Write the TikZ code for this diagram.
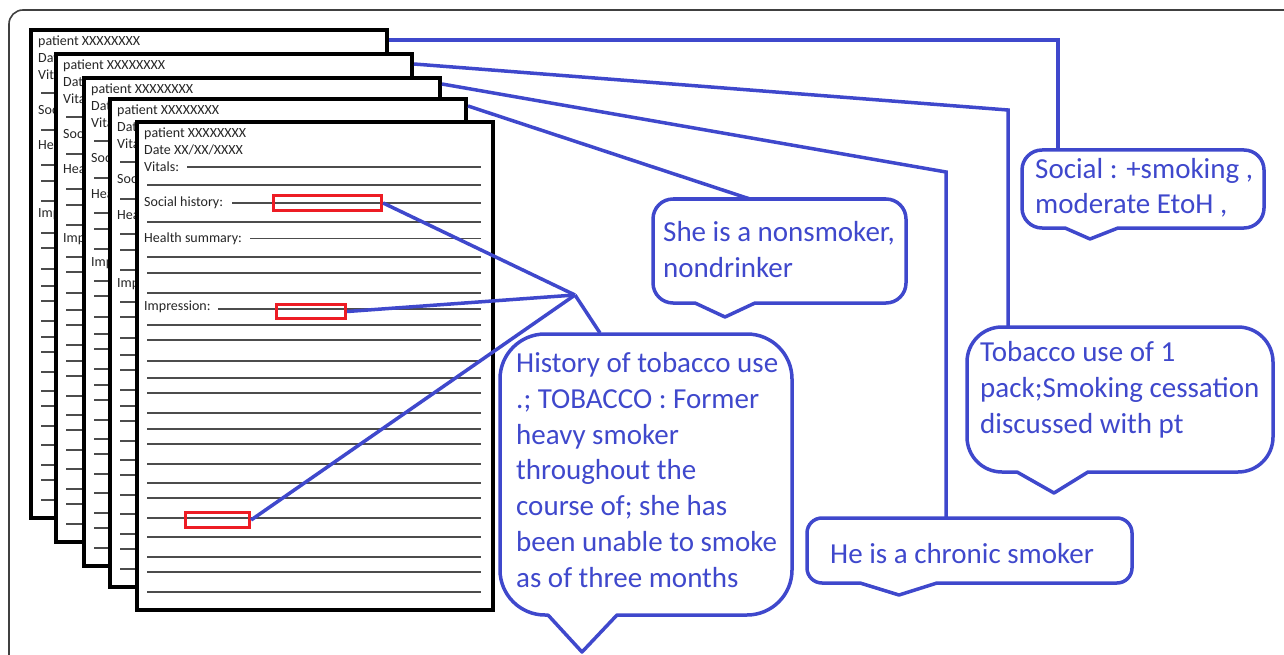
\documentclass[tikz,border=0pt]{standalone}
\usepackage{fontspec}
\setmainfont{Carlito}
\usetikzlibrary{positioning}
\definecolor{paintblue}{RGB}{63,72,204}
\definecolor{paintred}{RGB}{237,28,36}

\tikzset{
  frame/.style={draw=black!75, line width=1.6pt},
  page/.style={draw=black, line width=4pt, fill=white, minimum width=356pt, minimum height=488pt, anchor=north west, inner sep=0pt},
  pagetxt/.style={anchor=base west, inner sep=0pt, text=black!85, font=\fontsize{14pt}{16pt}\selectfont},
  ruled/.style={draw=black!70, line width=1.2pt},
  redbox/.style={draw=paintred, line width=3.2pt, inner sep=0pt},
  link/.style={draw=paintblue, line width=3.5pt},
  bubble/.style={draw=paintblue, line width=3.5pt, line join=round, line cap=round},
  bubbletxt/.style={anchor=base west, inner sep=0pt, align=left, text=paintblue, font=\fontsize{29pt}{35.7pt}\selectfont},
}

% one clinical note sheet, #1 = name, #2 = top left corner
\newcommand{\notepage}[2]{%
  \node[page] (#1) at (#2) {};
  \begin{scope}[shift={(#1.north west)}]
    \node[pagetxt] (#1-id) at (9,17.5) {patient XXXXXXXX};
    \node[pagetxt] (#1-date) at (9,35) {Date XX/XX/XXXX};
    \node[pagetxt] (#1-vit) at (9,52) {Vitals:};
    \node[pagetxt] (#1-soc) at (9,87) {Social history:};
    \node[pagetxt] (#1-hlth) at (9,122) {Health summary:};
    \node[pagetxt] (#1-imp) at (9,190) {Impression:};
    \foreach \y/\x in {47/52, 65/12, 83/97, 102/12, 118.5/115, 137/12, 153/12, 173/12,
      189/83, 205/12, 220/12, 241/12, 258/12, 273/12, 293/12, 309/12, 324/12, 344/12,
      363/12, 378/12, 398/12, 417/12, 437/12, 452/12, 472/12}
      \draw[ruled] (\x,\y) -- (346,\y);
  \end{scope}}

\begin{document}
\begin{tikzpicture}[x=1pt, y=-1pt]
  \useasboundingbox (0,0) rectangle (1284,655);
  \draw[frame, rounded corners=14pt] (9,660) -- (9,10) -- (1290,10);

  % stack of notes
  \notepage{p1}{29,28}
  \notepage{p2}{54,52}
  \notepage{p3}{82,76}
  \notepage{p4}{108,97}
  \notepage{p5}{135,120}

  % highlighted mentions
  \node[redbox, minimum width=108pt, minimum height=15pt] (rb1) at (327.5,203) {};
  \node[redbox, minimum width=69pt, minimum height=14pt] (rb2) at (311,311.5) {};
  \node[redbox, minimum width=64pt, minimum height=15pt] (rb3) at (217.5,520) {};

  % callouts (text anchored on the baseline of its last line)
  \draw[bubble] (695,303) -- (725,317) -- (755,303) [rounded corners=20pt] -- (906,303) -- (906,199) -- (653,199) -- (653,303) -- (695,303);
  \node[bubbletxt] (nonsmoker) at (663,277) {She is a nonsmoker,\\nondrinker};

  \draw[bubble] (548,615) -- (582,652) -- (617,615) [rounded corners=45pt] -- (792,615) -- (792,334) -- (500,334) -- (500,615) -- (548,615);
  \node[bubbletxt] (former) at (516,587) {History of tobacco use\\.; TOBACCO : Former\\heavy smoker\\throughout the\\course of; she has\\been unable to smoke\\as of three months};

  \draw[bubble] (1065,228) -- (1090,239) -- (1118,228) [rounded corners=20pt] -- (1264,228) -- (1264,150) -- (1022,150) -- (1022,228) -- (1065,228);
  \node[bubbletxt] (social) at (1035,214) {Social : +smoking ,\\moderate EtoH ,};

  \draw[bubble] (1017,472) -- (1054,493) -- (1088,472) [rounded corners=35pt] -- (1273,472) -- (1273,327) -- (967,327) -- (967,472) -- (1017,472);
  \node[bubbletxt] (pack) at (980,433) {Tobacco use of 1\\pack;Smoking cessation\\discussed with pt};

  \draw[bubble] (860,583) -- (899,595) -- (937,583) [rounded corners=15pt] -- (1132,583) -- (1132,518) -- (807,518) -- (807,583) -- (860,583);
  \node[bubbletxt] (chronic) at (830,563) {He is a chronic smoker};

  % where the connectors meet the callouts
  \coordinate (hub) at (575,295);
  \coordinate (topA) at (750,199);
  \coordinate (topB) at (600,333);
  \coordinate (topC) at (1058,150);
  \coordinate (topD) at (1008,327);
  \coordinate (topE) at (946,518);
  \coordinate (kD) at (1008,110);
  \coordinate (kE) at (946,172);

  \draw[link] ([yshift=-12pt]p1.north east) -| (topC);
  \draw[link] ([yshift=-12pt]p2.north east) -- (kD) -- (topD);
  \draw[link] ([yshift=-8pt]p3.north east) -- (kE) -- (topE);
  \draw[link] ([yshift=-9pt]p4.north east) -- (topA);
  \draw[link] (rb1.east) -- (hub);
  \draw[link] (rb2.east) -- (hub);
  \draw[link] (rb3.east) -- (hub);
  \draw[link] (hub) -- (topB);
\end{tikzpicture}
\end{document}
